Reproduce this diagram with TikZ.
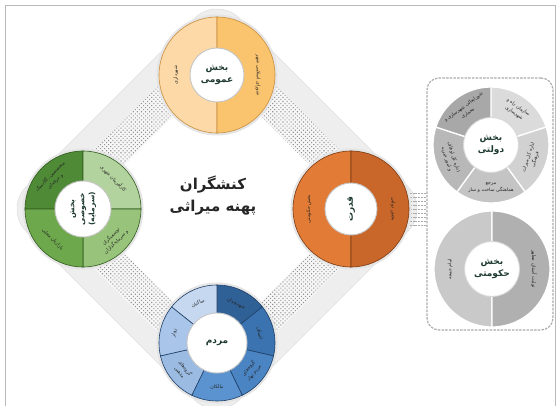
\documentclass[tikz,border=0pt]{standalone}
\usepackage{fontspec}
\newfontfamily\fa[Script=Arabic]{DejaVu Sans}
\TeXXeTstate=1
\usetikzlibrary{patterns.meta}
\newcommand\FaR[1]{\beginR#1\endR}
\newcommand\mysector[5]{\filldraw[#5] (#1) -- ([shift={(#2:#4)}]#1) arc[start angle=#2, end angle=#3, radius=#4] -- cycle;}
\definecolor{ylA}{HTML}{FCD9A6}
\definecolor{ylB}{HTML}{FAC46E}
\definecolor{ylD}{HTML}{C98E3E}
\definecolor{orA}{HTML}{E27B35}
\definecolor{orB}{HTML}{C9662A}
\definecolor{orD}{HTML}{7A3A12}
\definecolor{gnA}{HTML}{4F8A36}
\definecolor{gnB}{HTML}{B3D39E}
\definecolor{gnC}{HTML}{98C37A}
\definecolor{gnE}{HTML}{6DA84C}
\definecolor{gnD}{HTML}{2F5A1E}
\definecolor{blA}{HTML}{2F6096}
\definecolor{blB}{HTML}{3A73B0}
\definecolor{blC}{HTML}{4A84C2}
\definecolor{blE}{HTML}{5B93D1}
\definecolor{blF}{HTML}{9BBBE2}
\definecolor{blG}{HTML}{A9C5E9}
\definecolor{blH}{HTML}{C5D8EF}
\definecolor{blD}{HTML}{1F3F66}
\definecolor{ctrcol}{HTML}{1E3B30}
\begin{document}
\begin{tikzpicture}[x=1pt,y=1pt,
  segtxt/.style={font=\fa\fontsize{4.8}{7.2}\selectfont, align=center, text=black!85, inner sep=0pt},
  ctrtxt/.style={font=\fa\bfseries\fontsize{9}{11.5}\selectfont, align=center, text=ctrcol, inner sep=0pt},
  inner/.style={fill=white, draw=gray!45, line width=0.9pt},
  halo/.style={fill=gray!20},
  conn/.style={draw=gray!65, line width=0.7pt, dash pattern=on 2pt off 0.8pt}]
\useasboundingbox (0,0) rectangle (560,405);
\fill[white] (0,0) rectangle (560,405);
\draw[gray!55, line width=0.8pt] (5.5,-2) rectangle (555.5,399.5);

\coordinate (O) at (217,196);
\coordinate (T) at (217,330);
\coordinate (L) at (83,196);
\coordinate (B) at (217,62);
\coordinate (R) at (351,196);

% diamond band and dotted strips
\begin{scope}[shift={(O)}, rotate=45]
  \fill[gray!13, even odd rule, rounded corners=32] (-150.75,-150.75) rectangle (150.75,150.75)
     [sharp corners] (-128.75,-128.75) rectangle (128.75,128.75);
  \draw[gray!24, line width=0.6pt, rounded corners=32] (-150.75,-150.75) rectangle (150.75,150.75);
  \fill[gray!6, even odd rule]
     (-128.75,-128.75) rectangle (128.75,128.75) (-96.75,-96.75) rectangle (96.75,96.75);
  \fill[pattern={Dots[radius=0.75pt,distance=2.9pt,angle=45]}, pattern color=gray!85, even odd rule]
     (-128.75,-128.75) rectangle (128.75,128.75) (-96.75,-96.75) rectangle (96.75,96.75);
\end{scope}

% right box
\node[draw=gray!65, line width=1.2pt, dash pattern=on 2.5pt off 1.2pt, rounded corners=12pt, fill=white,
      minimum width=126pt, minimum height=252pt, inner sep=0pt] (box) at (490,201) {};
\foreach \dy in {-16,-12,...,16}
  \draw[conn] ([yshift=\dy]R) -- ([yshift=\dy]R -| box.west);

% halos
\foreach \c in {T,L,B,R} \fill[halo] (\c) circle (60.5);

% ---- top circle
\mysector{T}{90}{270}{58}{fill=ylA, draw=ylD, line width=0.6pt}
\mysector{T}{-90}{90}{58}{fill=ylB, draw=ylD, line width=0.6pt}
\draw[inner] (T) circle (27);
\node[ctrtxt] (tc) at (T) {\FaR{بخش}\\\FaR{عمومی}};
\node[segtxt, rotate=90] (t1) at ([shift={(180:41)}]T) {\FaR{شهرداری}};
\node[segtxt, rotate=-90] (t2) at ([shift={(0:41)}]T) {\FaR{شورای اسلامی شهر}};

% ---- left green circle
\mysector{L}{90}{180}{58}{fill=gnA, draw=gnD, line width=0.6pt}
\mysector{L}{0}{90}{58}{fill=gnB, draw=gnD, line width=0.6pt}
\mysector{L}{-90}{0}{58}{fill=gnC, draw=gnD, line width=0.6pt}
\mysector{L}{180}{270}{58}{fill=gnE, draw=gnD, line width=0.6pt}
\draw[inner] (L) circle (28);
\node[ctrtxt, rotate=90, font=\fa\bfseries\fontsize{7.5}{10}\selectfont] (lc) at (L) {\FaR{بخش}\\\FaR{خصوصی}\\\FaR{(سرمایه)}};
\node[segtxt, rotate=45] (l1) at ([shift={(135:43)}]L) {\FaR{متخصصین، آکادمیک}\\\FaR{و حرفه‌ای}};
\node[segtxt, rotate=-45] (l2) at ([shift={(45:43)}]L) {\FaR{کارآفرینان شهری}};
\node[segtxt, rotate=45] (l3) at ([shift={(-45:43)}]L) {\FaR{توسعه‌گران}\\\FaR{و سرمایه‌گذاران}};
\node[segtxt, rotate=-45] (l4) at ([shift={(-135:43)}]L) {\FaR{بازاریان محلی}};

% ---- right orange circle
\mysector{R}{90}{270}{58}{fill=orA, draw=orD, line width=0.6pt}
\mysector{R}{-90}{90}{58}{fill=orB, draw=orD, line width=0.6pt}
\draw[inner] (R) circle (26);
\node[ctrtxt, rotate=90] (rc) at (R) {\FaR{قدرت}};
\node[segtxt, rotate=90] (r1) at ([shift={(180:42)}]R) {\FaR{بخش حکومتی}};
\node[segtxt, rotate=-90] (r2) at ([shift={(0:42)}]R) {\FaR{بخش دولتی}};

% ---- bottom blue circle
\mysector{B}{38.57}{90}{58}{fill=blA, draw=blD, line width=0.6pt}
\mysector{B}{-12.86}{38.57}{58}{fill=blB, draw=blD, line width=0.6pt}
\mysector{B}{-64.29}{-12.86}{58}{fill=blC, draw=blD, line width=0.6pt}
\mysector{B}{-115.71}{-64.29}{58}{fill=blE, draw=blD, line width=0.6pt}
\mysector{B}{-167.14}{-115.71}{58}{fill=blF, draw=blD, line width=0.6pt}
\mysector{B}{141.43}{192.86}{58}{fill=blG, draw=blD, line width=0.6pt}
\mysector{B}{90}{141.43}{58}{fill=blH, draw=blD, line width=0.6pt}
\draw[inner] (B) circle (30);
\node[ctrtxt] (bc) at (B) {\FaR{مردم}};
\node[segtxt, rotate=-25.7] (b1) at ([shift={(64.3:44)}]B) {\FaR{شهروندان}};
\node[segtxt, rotate=-77.1] (b2) at ([shift={(12.9:44)}]B) {\FaR{اصناف}};
\node[segtxt, rotate=51.4] (b3) at ([shift={(-38.6:44)}]B) {\FaR{گروه‌های}\\\FaR{مردم نهاد}};
\node[segtxt, rotate=0] (b4) at ([shift={(-90:44)}]B) {\FaR{مالکان}};
\node[segtxt, rotate=-51.4] (b5) at ([shift={(-141.4:44)}]B) {\FaR{گروه‌های}\\\FaR{مذهبی}};
\node[segtxt, rotate=77.1] (b6) at ([shift={(167.1:44)}]B) {\FaR{زوار}};
\node[segtxt, rotate=25.7] (b7) at ([shift={(115.7:44)}]B) {\FaR{ساکنان}};

% ---- title
\node[font=\fa\bfseries\fontsize{15}{22}\selectfont, align=center, text=black!85] (title) at (213,209)
  {\FaR{کنشگران}\\\FaR{پهنه میراثی}};

% ---- gray circles in box
\coordinate (G1) at (491,260);
\coordinate (G2) at (492,136);
\mysector{G1}{18}{90}{58}{fill=gray!28, draw=white, line width=1.3pt}
\mysector{G1}{-54}{18}{58}{fill=gray!36, draw=white, line width=1.3pt}
\mysector{G1}{-126}{-54}{58}{fill=gray!46, draw=white, line width=1.3pt}
\mysector{G1}{162}{234}{58}{fill=gray!56, draw=white, line width=1.3pt}
\mysector{G1}{90}{162}{58}{fill=gray!68, draw=white, line width=1.3pt}
\draw[fill=white, draw=gray!30, line width=0.9pt] (G1) circle (27.5);
\node[ctrtxt] (g1c) at (G1) {\FaR{بخش}\\\FaR{دولتی}};
\node[segtxt] (g11) [rotate=-36] at ([shift={(54:43)}]G1) {\FaR{سازمان راه و}\\\FaR{شهرسازی}};
\node[segtxt] (g12) [rotate=72] at ([shift={(-18:43)}]G1) {\FaR{اداره کل میراث}\\\FaR{فرهنگی}};
\node[segtxt] (g13) [rotate=0] at ([shift={(-90:43)}]G1) {\FaR{مرجع}\\\FaR{هماهنگی ساخت و ساز}};
\node[segtxt] (g14) [rotate=-72] at ([shift={(-162:43)}]G1) {\FaR{اداره کل اوقاف}\\\FaR{و امور خیریه}};
\node[segtxt] (g15) [rotate=36] at ([shift={(126:43)}]G1) {\FaR{شورایعالی شهرسازی و}\\\FaR{معماری}};

\mysector{G2}{90}{270}{58}{fill=gray!42, draw=white, line width=1.3pt}
\mysector{G2}{-90}{90}{58}{fill=gray!62, draw=white, line width=1.3pt}
\draw[fill=white, draw=gray!30, line width=0.9pt] (G2) circle (27.5);
\node[ctrtxt] (g2c) at (G2) {\FaR{بخش}\\\FaR{حکومتی}};
\node[segtxt, rotate=90] (g21) at ([shift={(180:42)}]G2) {\FaR{امام جمعه}};
\node[segtxt, rotate=-90] (g22) at ([shift={(0:42)}]G2) {\FaR{تولیت آستان مطهر}};
\end{tikzpicture}
\end{document}
